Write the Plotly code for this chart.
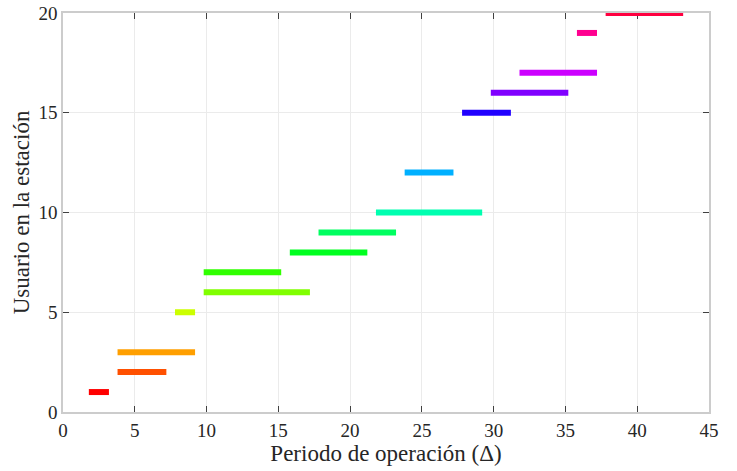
import plotly.graph_objects as go

users = [1, 2, 3, 5, 6, 7, 8, 9, 10, 12, 15, 16, 17, 19, 20]
start = [2, 4, 4, 8, 10, 10, 16, 18, 22, 24, 28, 30, 32, 36, 38]
end = [3, 7, 9, 9, 17, 15, 21, 23, 29, 27, 31, 35, 37, 37, 43]
colors = ["#ff0000", "#ff5000", "#ff9f00", "#ccff00", "#80ff00", "#30ff00",
          "#00ff20", "#00ff60", "#00ffb0", "#00b0ff", "#2000ff", "#8000ff",
          "#cc00ff", "#ff0090", "#ff0040"]
xticks = [0, 5, 10, 15, 20, 25, 30, 35, 40, 45]
yticks = [0, 5, 10, 15, 20]

CAP = 0.2  # visual line-cap extension

fig = go.Figure()
for u, s, e, c in zip(users, start, end, colors):
    fig.add_trace(go.Scatter(x=[s - CAP, e + CAP], y=[u, u], mode="lines",
                             line=dict(color=c, width=6), showlegend=False,
                             hoverinfo="skip", cliponaxis=False))

font = dict(family="Liberation Serif, Times New Roman, serif", size=19, color="#262626")
axis_common = dict(showline=True, linecolor="#cccccc", linewidth=1.5, mirror="ticks",
                   ticks="inside", ticklen=6, tickcolor="#404040", tickwidth=1,
                   showgrid=True, gridcolor="#ebebeb", gridwidth=1, zeroline=False,
                   tickfont=font, automargin=False, layer="below traces")
fig.update_layout(
    width=737, height=471, margin=dict(l=63, r=28, t=13, b=59),
    plot_bgcolor="white", paper_bgcolor="white", font=font,
    xaxis=dict(range=[0, 45], tickvals=xticks,
               title=dict(text="Periodo de operación (Δ)", font=dict(size=23), standoff=2),
               **axis_common),
    yaxis=dict(range=[0, 20], tickvals=yticks,
               title=dict(text="Usuario en la estación", font=dict(size=23), standoff=2),
               **axis_common),
)
fig.write_html("out.html")
